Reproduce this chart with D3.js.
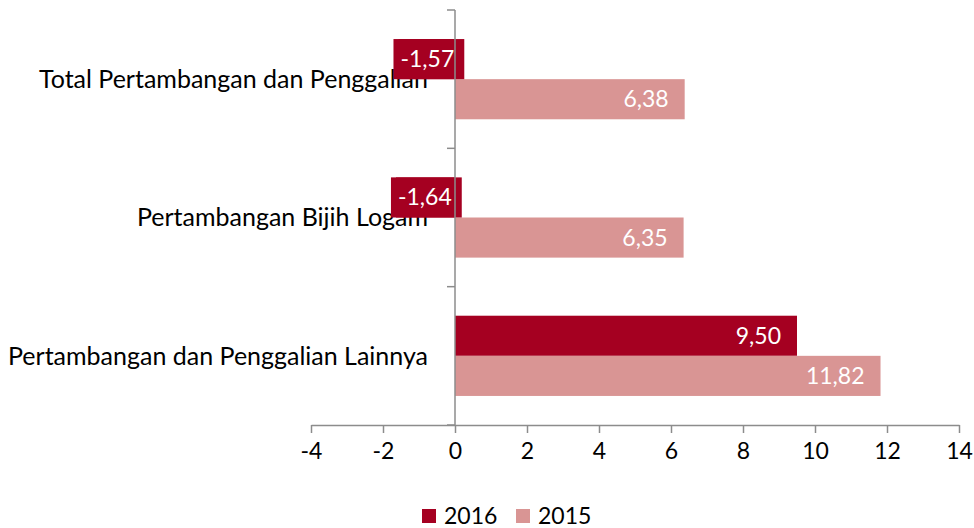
<!DOCTYPE html>
<html>
<head>
<meta charset="utf-8">
<script src="https://cdn.jsdelivr.net/npm/d3@7"></script>
<style>
  body { margin: 0; background: #fff; }
  text { font-family: Lato, "Open Sans", sans-serif; }
</style>
</head>
<body>
<div id="chart"></div>
<script>
var categories = ["Total Pertambangan dan Penggalian", "Pertambangan Bijih Logam", "Pertambangan dan Penggalian Lainnya"];
var seriesNames = ["2016", "2015"];
var values2016 = [-1.57, -1.64, 9.50];
var values2015 = [6.38, 6.35, 11.82];
var xTicks = [-4, -2, 0, 2, 4, 6, 8, 10, 12, 14];
var colors = {"2016": "#A50021", "2015": "#D99594"};

var W = 974, H = 528;
var svg = d3.select("#chart").append("svg").attr("width", W).attr("height", H);

var x = d3.scaleLinear().domain([-4, 14]).range([311, 959]);
var y = d3.scaleBand().domain(categories).range([10, 425]).paddingInner(0.42).paddingOuter(0.21);
var ySub = d3.scaleBand().domain(seriesNames).range([0, y.bandwidth()]);

// comma decimals, plain hyphen for minus
var fmt = function(v) { return (v < 0 ? "-" : "") + d3.format(".2f")(Math.abs(v)).replace(".", ","); };

// category labels (drawn first, the negative labels sit over them)
svg.append("g").selectAll("text")
  .data(categories)
  .enter().append("text")
  .attr("x", 428)
  .attr("y", function(d) { return y(d) + y.bandwidth() / 2; })
  .attr("dy", "0.35em")
  .attr("text-anchor", "end")
  .attr("font-size", "25px")
  .attr("fill", "#000")
  .text(function(d) { return d; });

// x axis
var xAxis = svg.append("g")
  .attr("transform", "translate(0,425)")
  .call(d3.axisBottom(x).tickValues(xTicks).tickSize(8).tickSizeOuter(0).tickPadding(10).tickFormat(d3.format("d")));
xAxis.select(".domain").attr("stroke", "#8c8c8c").attr("stroke-width", 1.5);
xAxis.selectAll(".tick line").attr("stroke", "#8c8c8c").attr("stroke-width", 1.5);
xAxis.selectAll(".tick text")
  .attr("font-family", "Lato, sans-serif")
  .attr("font-size", "23px")
  .attr("fill", "#000")
  .text(function(d) { return d < 0 ? "-" + Math.abs(d) : d; });

var rows = categories.map(function(c, i) {
  return [{cat: c, s: "2016", v: values2016[i]}, {cat: c, s: "2015", v: values2015[i]}];
});

var groups = svg.append("g").selectAll("g")
  .data(rows)
  .enter().append("g")
  .attr("transform", function(d) { return "translate(0," + y(d[0].cat) + ")"; });

groups.selectAll("rect")
  .data(function(d) { return d; })
  .enter().append("rect")
  .attr("x", function(d) { return x(Math.min(0, d.v)); })
  .attr("y", function(d) { return ySub(d.s); })
  .attr("width", function(d) { return Math.abs(x(d.v) - x(0)); })
  .attr("height", ySub.bandwidth())
  .attr("fill", function(d) { return colors[d.s]; });

// y axis
var yAxis = svg.append("g")
  .attr("transform", "translate(" + x(0) + ",0)");
yAxis.append("line").attr("x1", 0).attr("x2", 0).attr("y1", 10).attr("y2", 425)
  .attr("stroke", "#8c8c8c").attr("stroke-width", 1.5);
var yTickPos = [10].concat(categories.map(function(c) { return y(c) + y.bandwidth() + y.step() * 0.21; }));
yAxis.selectAll(".yt")
  .data(yTickPos)
  .enter().append("line")
  .attr("x1", -8).attr("x2", 0)
  .attr("y1", function(d) { return d; }).attr("y2", function(d) { return d; })
  .attr("stroke", "#8c8c8c").attr("stroke-width", 1.5);

// value labels
groups.each(function(row) {
  var g = d3.select(this);
  row.forEach(function(d) {
    var cy = ySub(d.s) + ySub.bandwidth() / 2;
    if (d.v < 0) {
      var t = g.append("text")
        .attr("x", x(d.v) + 2)
        .attr("y", cy)
        .attr("dy", "0.35em")
        .attr("font-size", "23px")
        .attr("fill", "#fff")
        .text(fmt(d.v));
      var bb = t.node().getBBox();
      g.insert("rect", function() { return t.node(); })
        .attr("x", bb.x - 7)
        .attr("y", ySub(d.s))
        .attr("width", bb.width + 17)
        .attr("height", ySub.bandwidth())
        .attr("fill", colors[d.s]);
    } else {
      g.append("text")
        .attr("x", x(d.v) - 16)
        .attr("y", cy)
        .attr("dy", "0.35em")
        .attr("text-anchor", "end")
        .attr("font-size", "23px")
        .attr("fill", "#fff")
        .text(fmt(d.v));
    }
  });
});

// legend
var legend = svg.append("g").attr("transform", "translate(422,509)");
var li = legend.selectAll("g")
  .data(seriesNames)
  .enter().append("g")
  .attr("transform", function(d, i) { return "translate(" + (i * 94) + ",0)"; });
li.append("rect").attr("width", 14).attr("height", 14).attr("fill", function(d) { return colors[d]; });
li.append("text").attr("x", 22).attr("y", 7).attr("dy", "0.35em")
  .attr("font-size", "23px").attr("fill", "#000")
  .text(function(d) { return d; });
</script>
</body>
</html>
